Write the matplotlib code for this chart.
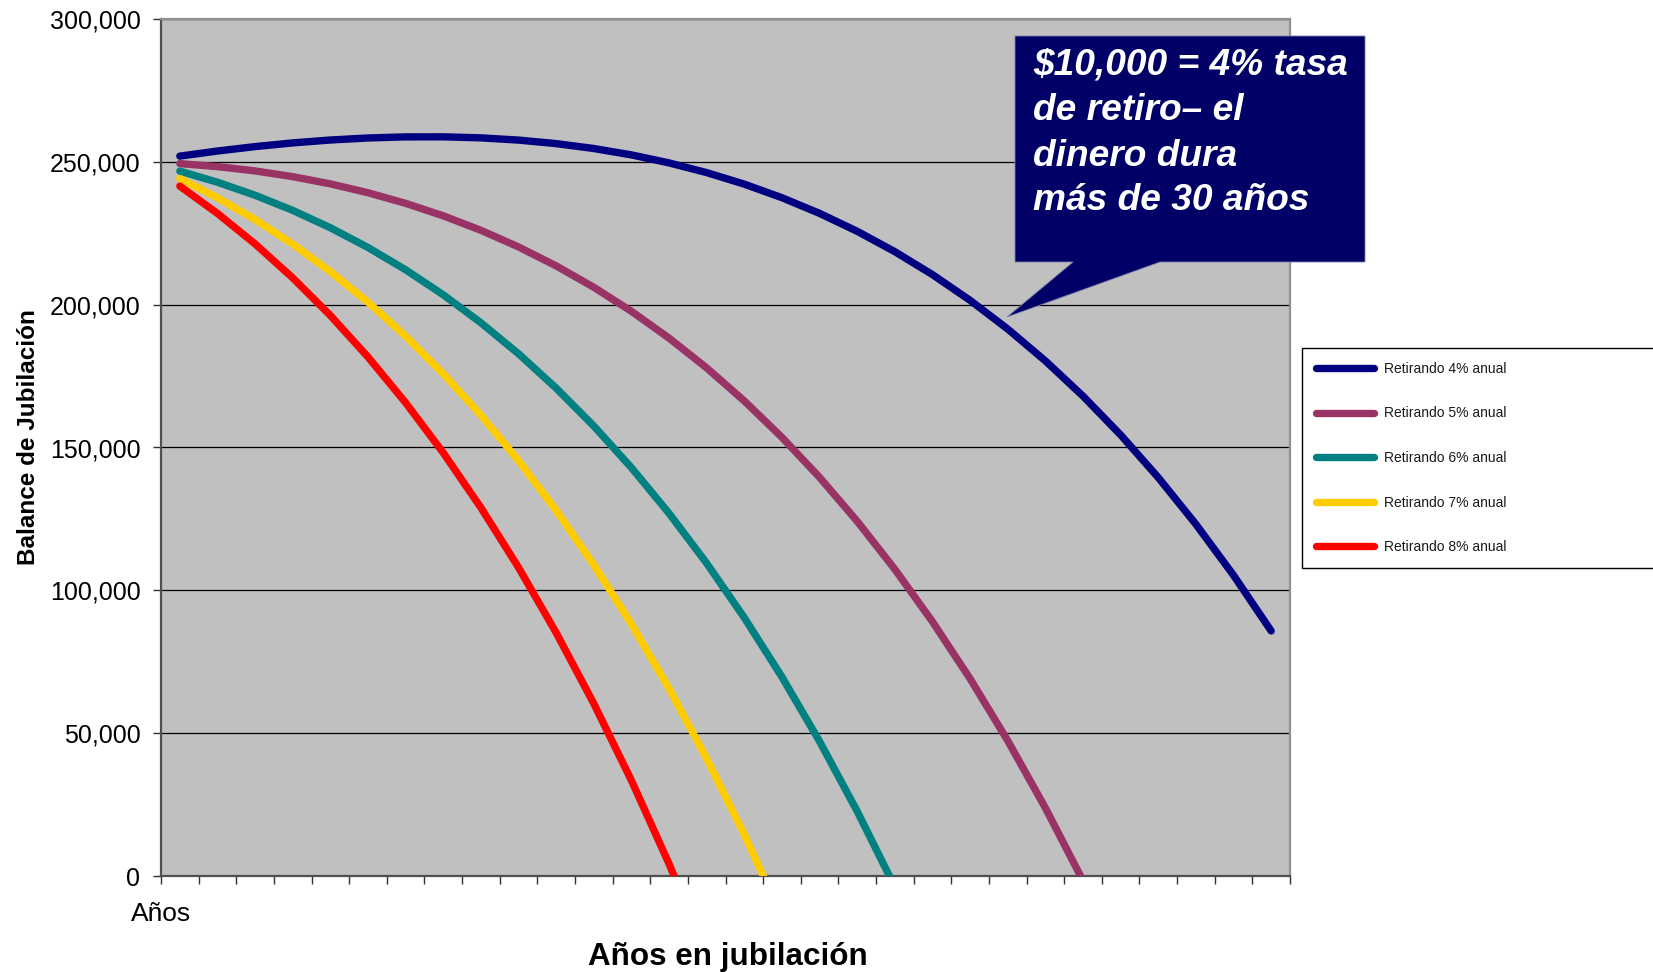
import matplotlib
matplotlib.use("Agg")
import matplotlib.pyplot as plt
from matplotlib.patches import Polygon

plt.rcParams['font.family'] = ['Liberation Sans', 'DejaVu Sans']

# ---- data (balance at end of each year in retirement) ----
years_4 = list(range(1, 31))
bal_4 = [252000, 253784, 255334, 256627, 257641, 258351, 258731, 258754, 258391, 257610,
         256380, 254663, 252426, 249628, 246228, 242181, 237439, 231957, 225679, 218552,
         210516, 201507, 191463, 180315, 167984, 154398, 139475, 123127, 105258, 85778]
bal_5 = [249375, 248325, 246816, 244816, 242287, 239183, 235470, 231102, 226030, 220207,
         213579, 206089, 197680, 188290, 177852, 166296, 153549, 139534, 124164, 107358,
         89022, 69057, 47360, 23824, -1666]
bal_6 = [246750, 242864, 238298, 233003, 226927, 220014, 212209, 203449, 193671, 182803,
         170777, 157515, 142934, 126951, 109476, 90413, 69657, 47107, 22649, -3837]
bal_7 = [244125, 237405, 229780, 221190, 211570, 200847, 188948, 175797, 161310, 145400,
         127976, 108939, 88188, 65613, 41098, 14527, -14233]
bal_8 = [241500, 231944, 221262, 209378, 196211, 181678, 165686, 148145, 128950, 107996,
         85175, 60364, 33442, 4275, -27278]

series_labels = ["Retirando 4% anual", "Retirando 5% anual", "Retirando 6% anual",
                 "Retirando 7% anual", "Retirando 8% anual"]
series_values = [bal_4, bal_5, bal_6, bal_7, bal_8]
series_colors = ["#000080", "#993366", "#008080", "#FFCC00", "#FF0000"]

n_categories = 30
y_ticks = [0, 50000, 100000, 150000, 200000, 250000, 300000]
first_tick_label = "Años"
x_title = "Años en jubilación"
y_title = "Balance de Jubilación"
callout_lines = ["$10,000 = 4% tasa", "de retiro– el", "dinero dura", "más de 30 años"]

# ---- figure ----
W, H = 1653, 972
fig = plt.figure(figsize=(W / 100, H / 100), dpi=100)
fig.patch.set_facecolor("white")

def fx(x):
    return x / W

def fy(y):
    return 1 - y / H

ax = fig.add_axes([fx(161), fy(876), (1290 - 161) / W, (876 - 19) / H])
ax.set_facecolor("#C0C0C0")

lines = []
for vals, col, lab in zip(series_values, series_colors, series_labels):
    xs = [i + 0.5 for i in range(len(vals))]
    ln, = ax.plot(xs, vals, color=col, lw=5.3, solid_capstyle="round",
                  solid_joinstyle="round", label=lab, zorder=3)
    lines.append(ln)

ax.set_xlim(0, n_categories)
ax.set_ylim(0, 300000)
ax.set_yticks(y_ticks)
ax.set_yticklabels([f"{v:,}" for v in y_ticks])
ax.set_xticks(range(n_categories + 1))
ax.set_xticklabels([first_tick_label] + [""] * n_categories)
for lbl in ax.get_xticklabels():
    lbl.set_x(lbl.get_position()[0])

ax.yaxis.grid(True, color="black", lw=0.9)
ax.set_axisbelow(True)

for side in ["top", "right"]:
    ax.spines[side].set_color("#909090")
    ax.spines[side].set_linewidth(1.6)
for side in ["left", "bottom"]:
    ax.spines[side].set_color("#505050")
    ax.spines[side].set_linewidth(1.6)

ax.tick_params(axis="y", direction="out", length=5.8, width=1.0, color="#303030",
               pad=9, labelsize=18, labelcolor="black")
ax.tick_params(axis="x", direction="out", length=5.5, width=1.0, color="#303030",
               pad=13.5, labelsize=19, labelcolor="black")

ax.set_xlabel(x_title, fontsize=22.6, fontweight="bold")
ax.xaxis.label.set_va("center")
ax.xaxis.set_label_coords(0.502, (876 - 957) / (876 - 19))

ax.set_ylabel(y_title, fontsize=17.5, fontweight="bold")
ax.yaxis.label.set_va("center")
ax.yaxis.set_label_coords((28.5 - 161) / (1290 - 161), (876 - 437.5) / (876 - 19))

# ---- legend ----
leg = fig.legend(handles=lines, labels=series_labels, loc="upper left",
                 bbox_to_anchor=(fx(1302), fy(567), 0.3, (567 - 348) / H),
                 mode="expand", borderaxespad=0, fontsize=10, labelspacing=2.2,
                 borderpad=1.0, handlelength=4.2, handletextpad=0.7,
                 fancybox=False, framealpha=1, edgecolor="black", labelcolor="#1a1a1a")
leg.get_frame().set_linewidth(1.0)

# ---- callout ----
poly_px = [(1015, 36), (1365, 36), (1365, 262), (1160, 262), (1007, 317),
           (1073, 262), (1015, 262)]
callout = Polygon([(fx(x), fy(y)) for x, y in poly_px], closed=True,
                  transform=fig.transFigure, facecolor="#000066",
                  edgecolor="#8080b0", lw=0.6, zorder=10)
fig.patches.append(callout)

baselines = [75, 120, 165.5, 210]
for txt, yb in zip(callout_lines, baselines):
    fig.text(fx(1033), fy(yb), txt, color="white", fontsize=26.7, fontweight="bold",
             fontstyle="italic", ha="left", va="baseline", zorder=11)

fig.savefig("out.png", dpi=100, facecolor="white")
